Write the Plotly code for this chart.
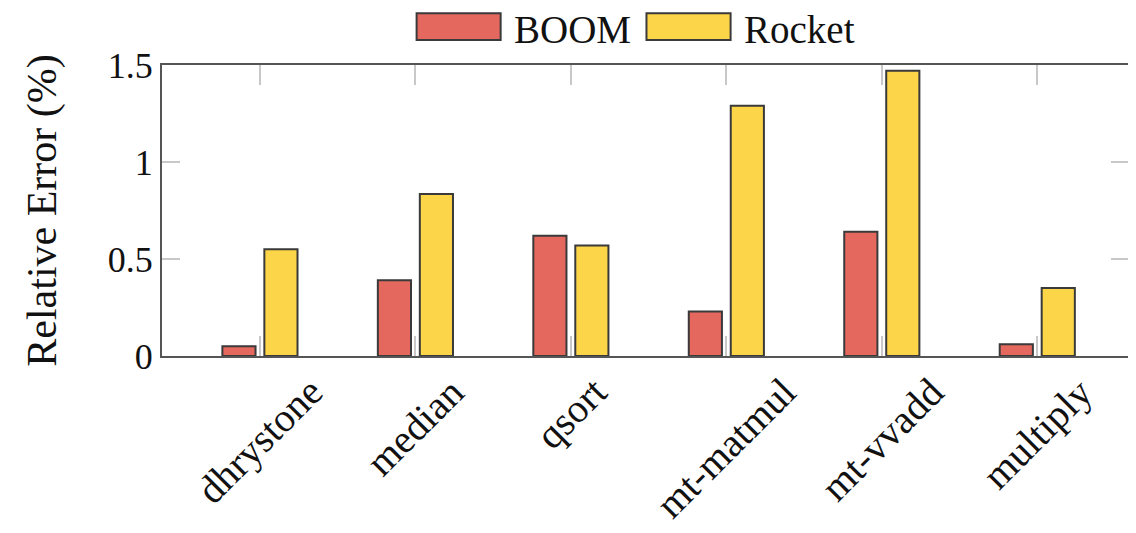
import plotly.graph_objects as go

categories = ["dhrystone", "median", "qsort", "mt-matmul", "mt-vvadd", "multiply"]
series_names = ["BOOM", "Rocket"]
boom = [0.05, 0.39, 0.62, 0.23, 0.64, 0.06]
rocket = [0.55, 0.835, 0.57, 1.29, 1.47, 0.35]
y_ticks = [0, 0.5, 1, 1.5]
y_tick_labels = ["0", "0.5", "1", "1.5"]

colors = ["#E5685F", "#FDD548"]
outline = "#3a3a3a"
FONT = "Liberation Serif"

xidx = list(range(len(categories)))

fig = go.Figure()
for name, vals, col in zip(series_names, [boom, rocket], colors):
    fig.add_trace(go.Bar(
        x=xidx, y=vals, name=name,
        marker=dict(color=col, line=dict(color=outline, width=2)),
        showlegend=False,
    ))

# category labels (rotated, centered under ticks)
for i, c in enumerate(categories):
    fig.add_annotation(
        x=i, y=-0.035, xref="x", yref="paper",
        text=c, textangle=-45, showarrow=False,
        xanchor="center", yanchor="top",
        font=dict(family=FONT, size=40, color="#111"),
    )

# custom legend
leg_x = [(0.2633, 0.3502, 0.3630), (0.5010, 0.5880, 0.6010)]
for (x0, x1, tx), name, col in zip(leg_x, series_names, colors):
    fig.add_shape(type="rect", xref="paper", yref="paper",
                  x0=x0, x1=x1, y0=1.086, y1=1.178,
                  fillcolor=col, line=dict(color=outline, width=2))
    fig.add_annotation(x=tx, y=1.121, xref="paper", yref="paper",
                       text=name, showarrow=False, xanchor="left", yanchor="middle",
                       borderpad=0,
                       font=dict(family=FONT, size=39, color="#111"))

# page body has an 8px margin, so the figure is sized/offset to compensate
fig.update_layout(
    width=1128, height=525,
    margin=dict(l=154, r=7, t=57, b=177, autoexpand=False),
    plot_bgcolor="white", paper_bgcolor="white",
    barmode="group", bargap=0.46, bargroupgap=0.21,
    font=dict(family=FONT, size=34, color="#111"),
)
fig.update_xaxes(
    range=[-0.63, 5.59], tickvals=xidx, showticklabels=False,
    ticks="inside", ticklen=20, tickwidth=1.5, tickcolor="#c8c8c8",
    showline=True, linecolor="#555", linewidth=2.2, mirror="ticks",
    showgrid=False, zeroline=False, automargin=False,
)
fig.update_yaxes(
    range=[0, 1.5], tickvals=y_ticks, ticktext=y_tick_labels,
    ticks="inside", ticklen=18, tickwidth=1.5, tickcolor="#c8c8c8",
    showline=True, linecolor="#555", linewidth=2.2, mirror="ticks",
    showgrid=False, zeroline=False, automargin=False,
    title=dict(text="Relative Error (%)", font=dict(family=FONT, size=42), standoff=38),
    tickfont=dict(family=FONT, size=36),
)

fig.write_html("out.html")
